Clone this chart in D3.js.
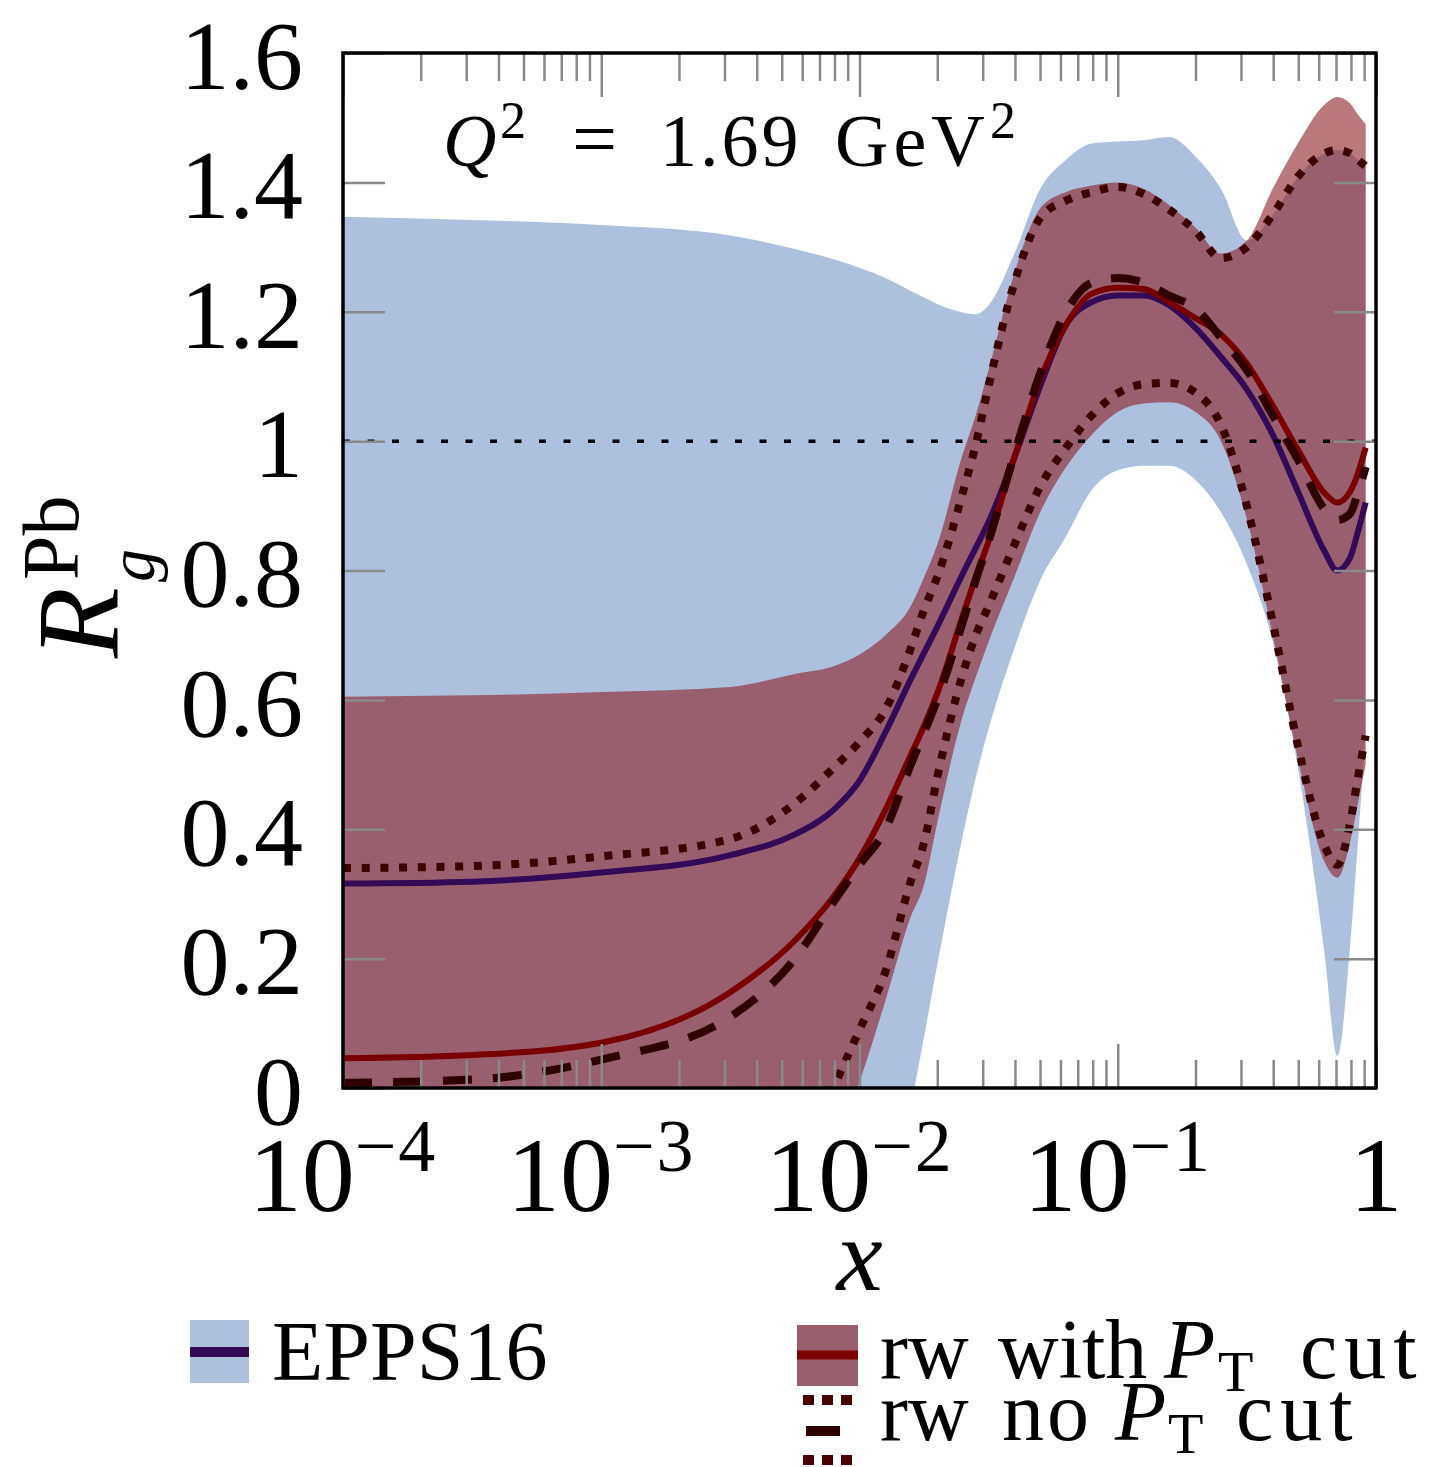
<!DOCTYPE html>
<html lang="en">
<head>
<meta charset="utf-8" />
<title>Gluon nuclear modification, Pb, Q2 = 1.69 GeV2</title>
<style>
  body { margin: 0; background: #ffffff; }
  svg { display: block; }
  text { font-family: "Liberation Serif", "DejaVu Serif", serif; fill: #000; }
</style>
</head>
<body>
<svg id="chart" width="1454" height="1467"></svg>
<script src="https://d3js.org/d3.v7.min.js"></script>
<script>
// x grid shared by all curves
const xGrid = [1e-4, 3.16e-4, 1e-3, 3.16e-3, 5.62e-3, 0.00794, 0.01, 0.0126, 0.0158, 0.0178, 0.02,
  0.0251, 0.0282, 0.0316, 0.0398, 0.0501, 0.0631, 0.0794, 0.1, 0.126, 0.158,
  0.2, 0.251, 0.316, 0.398, 0.501, 0.631, 0.708, 0.794, 0.851, 0.912];

// EPPS16 band + central
const eppsHi = [1.347, 1.342, 1.334, 1.318, 1.297, 1.281, 1.268, 1.252, 1.232, 1.222, 1.212,
  1.199, 1.196, 1.210, 1.290, 1.390, 1.435, 1.460, 1.463, 1.465, 1.470,
  1.440, 1.390, 1.310, 1.350, 1.410, 1.445, 1.450, 1.445, 1.435, 1.425];
const eppsLo = [-0.75, -0.76, -0.78, -0.80, -0.75, -0.64, -0.50, -0.25, -0.03, 0.08, 0.19,
  0.39, 0.48, 0.555, 0.68, 0.785, 0.853, 0.925, 0.955, 0.962, 0.962,
  0.94, 0.89, 0.81, 0.69, 0.49, 0.21, 0.05, 0.22, 0.38, 0.55];
const eppsC = [0.316, 0.319, 0.333, 0.360, 0.392, 0.430, 0.475, 0.550, 0.632, 0.673, 0.713,
  0.795, 0.835, 0.875, 0.975, 1.085, 1.180, 1.215, 1.225, 1.225, 1.210,
  1.175, 1.130, 1.080, 1.010, 0.920, 0.830, 0.800, 0.820, 0.860, 0.905];

// reweighted, with PT cut: band + central
const rwHi = [0.605, 0.607, 0.612, 0.620, 0.640, 0.652, 0.670, 0.700, 0.745, 0.790, 0.840,
  0.980, 1.040, 1.110, 1.260, 1.360, 1.385, 1.395, 1.400, 1.390, 1.365,
  1.330, 1.290, 1.310, 1.390, 1.462, 1.520, 1.532, 1.522, 1.505, 1.490];
const rwLo = [-0.55, -0.55, -0.53, -0.42, -0.22, -0.09, 0.01, 0.135, 0.265, 0.315, 0.41,
  0.575, 0.635, 0.69, 0.79, 0.89, 0.96, 1.01, 1.045, 1.058, 1.06,
  1.045, 1.0, 0.88, 0.70, 0.505, 0.35, 0.325, 0.38, 0.44, 0.50];
const rwC = [0.046, 0.051, 0.070, 0.148, 0.228, 0.296, 0.355, 0.430, 0.515, 0.560, 0.610,
  0.730, 0.790, 0.845, 0.975, 1.095, 1.180, 1.228, 1.237, 1.235, 1.215,
  1.190, 1.165, 1.120, 1.055, 0.985, 0.920, 0.905, 0.922, 0.950, 0.990];

// reweighted, no PT cut: central (dashed) + band edges (dotted)
const noCutC = [0.008, 0.013, 0.044, 0.110, 0.200, 0.288, 0.345, 0.400, 0.500, 0.550, 0.600,
  0.720, 0.785, 0.845, 0.980, 1.105, 1.200, 1.245, 1.252, 1.245, 1.225,
  1.205, 1.160, 1.110, 1.040, 0.970, 0.895, 0.878, 0.888, 0.920, 0.960];
const noCutHi = [0.340, 0.343, 0.358, 0.385, 0.440, 0.495, 0.535, 0.585, 0.680, 0.740, 0.790,
  0.920, 0.995, 1.085, 1.245, 1.345, 1.372, 1.385, 1.393, 1.382, 1.358,
  1.325, 1.283, 1.300, 1.350, 1.410, 1.445, 1.450, 1.445, 1.435, 1.425];
const noCutLo = [-0.62, -0.60, -0.55, -0.36, -0.15, 0.0, 0.09, 0.18, 0.32, 0.38, 0.48,
  0.64, 0.70, 0.745, 0.84, 0.93, 0.99, 1.04, 1.074, 1.088, 1.09,
  1.075, 1.025, 0.90, 0.72, 0.525, 0.375, 0.345, 0.41, 0.48, 0.545];

const refLevel = 1;

// axis ticks and labels
const xMajor = [1e-4, 1e-3, 1e-2, 1e-1, 1];
const xMajorExp = ["\u22124", "\u22123", "\u22122", "\u22121", null];
const yTicks = [0, 0.2, 0.4, 0.6, 0.8, 1.0, 1.2, 1.4, 1.6];
const yTickLabels = ["0", "0.2", "0.4", "0.6", "0.8", "1", "1.2", "1.4", "1.6"];

const blueFill = "#adc0de";
const purple = "#320a55";
const redLine = "#780000";
const dashCol = "#2e0000";
const dotCol = "#3d0000";
const tickCol = "#8a8a8a";

const svg = d3.select("#chart");
const plot = {left: 343, right: 1376, top: 53, bottom: 1088};

const x = d3.scaleLog().domain([1e-4, 1]).range([plot.left, plot.right]);
const y = d3.scaleLinear().domain([0, 1.6]).range([plot.bottom, plot.top]);

svg.append("clipPath").attr("id", "clip")
  .append("rect")
  .attr("x", plot.left).attr("y", plot.top)
  .attr("width", plot.right - plot.left).attr("height", plot.bottom - plot.top);

const rows = xGrid.map((v, i) => ({
  x: v, eHi: eppsHi[i], eLo: eppsLo[i], eC: eppsC[i],
  rHi: rwHi[i], rLo: rwLo[i], rC: rwC[i],
  nC: noCutC[i], nHi: noCutHi[i], nLo: noCutLo[i]
}));

const curve = d3.curveMonotoneX;
const area = (lo, hi) => d3.area().curve(curve).x(d => x(d.x)).y0(d => y(d[lo])).y1(d => y(d[hi]));
const line = key => d3.line().curve(curve).x(d => x(d.x)).y(d => y(d[key]));

const g = svg.append("g").attr("clip-path", "url(#clip)");

g.append("path").datum(rows).attr("d", area("eLo", "eHi")).attr("fill", blueFill);
g.append("path").datum(rows).attr("d", area("rLo", "rHi"))
  .attr("fill", "rgb(141,30,36)").attr("fill-opacity", 0.6);

g.append("path").datum(rows).attr("d", line("eC"))
  .attr("fill", "none").attr("stroke", purple).attr("stroke-width", 6);
g.append("path").datum(rows).attr("d", line("rC"))
  .attr("fill", "none").attr("stroke", redLine).attr("stroke-width", 6);

g.append("path").datum(rows).attr("d", line("nC"))
  .attr("fill", "none").attr("stroke", dashCol).attr("stroke-width", 8)
  .attr("stroke-dasharray", "29,21");
["nHi", "nLo"].forEach(k => {
  g.append("path").datum(rows).attr("d", line(k))
    .attr("fill", "none").attr("stroke", dotCol).attr("stroke-width", 8)
    .attr("stroke-dasharray", "8,10.7");
});

// y = 1 reference
g.append("line")
  .attr("x1", plot.left).attr("x2", plot.right)
  .attr("y1", y(refLevel)).attr("y2", y(refLevel))
  .attr("stroke", "#000").attr("stroke-width", 3.5).attr("stroke-dasharray", "7,17.5");

// ticks
const minorX = x.ticks().filter(v => !xMajor.some(m => Math.abs(m - v) / v < 1e-6));
function styleTicks(sel) {
  sel.select(".domain").remove();
  sel.selectAll(".tick line").attr("stroke", tickCol).attr("stroke-width", 2.5);
}
svg.append("g").attr("transform", `translate(0,${plot.bottom})`)
  .call(d3.axisBottom(x).tickValues(minorX).tickSize(-28).tickFormat(""))
  .call(styleTicks);
svg.append("g").attr("transform", `translate(0,${plot.bottom})`)
  .call(d3.axisBottom(x).tickValues(xMajor).tickSize(-44).tickFormat(""))
  .call(styleTicks);
svg.append("g").attr("transform", `translate(0,${plot.top})`)
  .call(d3.axisTop(x).tickValues(minorX).tickSize(-28).tickFormat(""))
  .call(styleTicks);
svg.append("g").attr("transform", `translate(0,${plot.top})`)
  .call(d3.axisTop(x).tickValues(xMajor).tickSize(-44).tickFormat(""))
  .call(styleTicks);

const yLeft = svg.append("g").attr("transform", `translate(${plot.left},0)`)
  .call(d3.axisLeft(y).tickValues(yTicks).tickSize(-42).tickPadding(40)
    .tickFormat((d, i) => yTickLabels[i]))
  .call(styleTicks);
yLeft.selectAll(".tick text")
  .attr("font-family", "Liberation Serif, serif").attr("font-size", 98)
  .attr("fill", "#000").attr("dy", "0.36em");
svg.append("g").attr("transform", `translate(${plot.right},0)`)
  .call(d3.axisRight(y).tickValues(yTicks).tickSize(-42).tickFormat(""))
  .call(styleTicks);

// x tick labels 10^k
xMajor.forEach((v, i) => {
  const t = svg.append("text")
    .attr("x", x(v)).attr("y", 1211)
    .attr("text-anchor", "middle").attr("font-size", 106);
  if (xMajorExp[i] === null) {
    t.text("1");
  } else {
    t.append("tspan").text("10");
    t.append("tspan").attr("dy", -40).attr("font-size", 74).attr("letter-spacing", 2).text(xMajorExp[i]);
  }
});

// frame
svg.append("rect")
  .attr("x", plot.left).attr("y", plot.top)
  .attr("width", plot.right - plot.left).attr("height", plot.bottom - plot.top)
  .attr("fill", "none").attr("stroke", "#000").attr("stroke-width", 3.5);

// axis titles
svg.append("text").attr("x", (plot.left + plot.right) / 2).attr("y", 1290)
  .attr("text-anchor", "middle").attr("font-size", 104).attr("font-style", "italic")
  .text("x");

const yl = svg.append("g").attr("transform", "translate(118,658) rotate(-90)");
yl.append("text").attr("x", 0).attr("y", 0).attr("font-size", 116)
  .attr("font-style", "italic").text("R");
yl.append("text").attr("x", 76).attr("y", 36).attr("font-size", 66)
  .attr("font-style", "italic").text("g");
yl.append("text").attr("x", 78).attr("y", -40).attr("font-size", 80).text("Pb");

// Q^2 annotation, pieces placed as in the figure
const q = svg.append("g").attr("font-size", 74);
q.append("text").attr("x", 443).attr("y", 166).attr("font-style", "italic").text("Q");
q.append("text").attr("x", 500).attr("y", 138).attr("font-size", 52).text("2");
q.append("text").attr("x", 572).attr("y", 166).attr("font-size", 80).text("=");
q.append("text").attr("x", 660).attr("y", 166).attr("letter-spacing", 3).text("1.69");
q.append("text").attr("x", 835).attr("y", 166).attr("letter-spacing", 5).text("GeV");
q.append("text").attr("x", 990).attr("y", 138).attr("font-size", 52).text("2");

// legend
const lg = svg.append("g").attr("font-size", 84);
lg.append("rect").attr("x", 190).attr("y", 1320).attr("width", 59).attr("height", 63).attr("fill", blueFill);
lg.append("line").attr("x1", 190).attr("x2", 249).attr("y1", 1352).attr("y2", 1352)
  .attr("stroke", purple).attr("stroke-width", 10);
lg.append("text").attr("x", 272).attr("y", 1380).text("EPPS16");

lg.append("rect").attr("x", 797).attr("y", 1325).attr("width", 61).attr("height", 61).attr("fill", "#9a5f6e");
lg.append("line").attr("x1", 797).attr("x2", 858).attr("y1", 1355).attr("y2", 1355)
  .attr("stroke", "#800000").attr("stroke-width", 9);

function legendLabel(baseY, words) {
  words.forEach(w => {
    const t = lg.append("text").attr("x", w.x).attr("y", baseY + (w.sub ? 13 : 0)).text(w.s);
    if (w.it) t.attr("font-style", "italic");
    if (w.sub) t.attr("font-size", 58);
    if (w.ls) t.attr("letter-spacing", w.ls);
  });
}
legendLabel(1378, [
  {s: "rw", x: 880}, {s: "with", x: 998}, {s: "P", x: 1164, it: true},
  {s: "T", x: 1218, sub: true}, {s: "cut", x: 1300, ls: 7}
]);

[1400, 1460].forEach(yy => {
  lg.append("line").attr("x1", 797).attr("x2", 858).attr("y1", yy).attr("y2", yy)
    .attr("stroke", "#4a0000").attr("stroke-width", 10)
    .attr("stroke-dasharray", "11,8").attr("stroke-dashoffset", 13);
});
lg.append("line").attr("x1", 797).attr("x2", 858).attr("y1", 1431).attr("y2", 1431)
  .attr("stroke", dashCol).attr("stroke-width", 10)
  .attr("stroke-dasharray", "34,18").attr("stroke-dashoffset", 43);

legendLabel(1440, [
  {s: "rw", x: 880}, {s: "no", x: 1002, ls: 3}, {s: "P", x: 1115, it: true},
  {s: "T", x: 1168, sub: true}, {s: "cut", x: 1236, ls: 7}
]);
</script>
</body>
</html>
